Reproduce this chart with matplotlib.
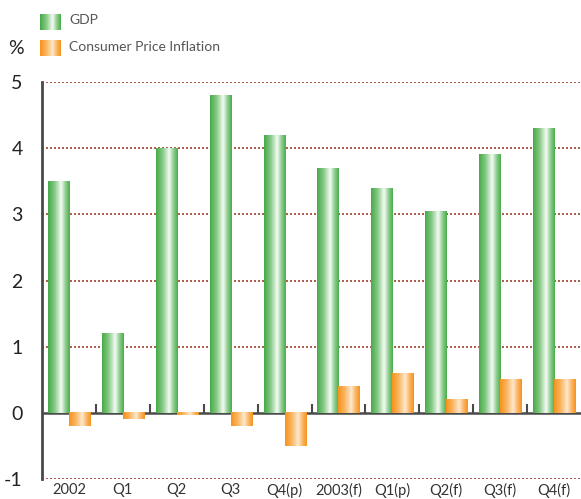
import numpy as np
import matplotlib
matplotlib.use('Agg')
import matplotlib.pyplot as plt
from matplotlib.colors import LinearSegmentedColormap

categories = ['2002', 'Q1', 'Q2', 'Q3', 'Q4(p)', '2003(f)', 'Q1(p)', 'Q2(f)', 'Q3(f)', 'Q4(f)']
gdp = [3.5, 1.2, 4.0, 4.8, 4.2, 3.7, 3.4, 3.05, 3.9, 4.3]
cpi = [-0.2, -0.1, -0.04, -0.2, -0.5, 0.4, 0.6, 0.2, 0.5, 0.5]
yticks = [-1, 0, 1, 2, 3, 4, 5]

plt.rcParams['font.family'] = ['Lato', 'DejaVu Sans']

green_cm = LinearSegmentedColormap.from_list('g', [(0, '#47aa47'), (0.3, '#86c986'), (0.6, '#f5fbf5'),
                                                  (0.8, '#92cf92'), (1, '#4aad4a')])
orange_cm = LinearSegmentedColormap.from_list('o', [(0, '#f7921c'), (0.3, '#f9b560'), (0.6, '#fde8cc'),
                                                   (0.8, '#fab868'), (1, '#f7921c')])
grad = np.linspace(0, 1, 64).reshape(1, -1)

fig = plt.figure(figsize=(5.81, 4.99), dpi=100)
ax = fig.add_axes([42 / 581, 20 / 499, 539 / 581, 397 / 499])

x = np.arange(len(categories))
w = 0.39
b1 = ax.bar(x + 0.11, gdp, width=w, align='edge', color='none', zorder=2)
b2 = ax.bar(x + 0.11 + w, cpi, width=w, align='edge', color='none', zorder=2)


def fill_gradient(bars, cmap):
    for r in bars:
        x0, y0 = r.get_x(), r.get_y()
        h = r.get_height()
        ax.imshow(grad, extent=[x0, x0 + r.get_width(), y0, y0 + h], aspect='auto',
                  cmap=cmap, zorder=5, interpolation='bilinear')


fill_gradient(b1, green_cm)
fill_gradient(b2, orange_cm)

# dotted grid lines
for yv in yticks:
    if yv != 0:
        ax.axhline(yv, color='#a0402a', lw=1.2, ls=(0, (1.2, 1.2)), zorder=1)
ax.axhline(0, color='#4a4a4a', lw=1.8, zorder=4)
ax.vlines(np.arange(1, len(categories)), 0, 0.13, color='#4a4a4a', lw=1.5, zorder=4)

ax.set_xlim(0, len(categories))
ax.set_ylim(-1, 5)
ax.set_aspect('auto')

for s in ['top', 'right', 'bottom']:
    ax.spines[s].set_visible(False)
ax.spines['left'].set_color('#4a4a4a')
ax.spines['left'].set_linewidth(2)

ax.set_yticks(yticks)
ax.set_yticklabels([str(v) for v in yticks], fontsize=14, color='#222222')
ax.tick_params(axis='y', length=0, pad=14)
ax.set_xticks(x + 0.5)
ax.set_xticklabels(categories, fontsize=10.5, color='#333333')
ax.tick_params(axis='x', length=0, pad=3)

fig.text(8 / 581, 1 - 48 / 499, '%', fontsize=14, color='#222222', va='center')

# legend
lg = fig.add_axes([40 / 581, 1 - 56 / 499, 21 / 581, 42 / 499])
lg.imshow(grad, extent=[0, 1, 26, 42], aspect='auto', cmap=green_cm)
lg.imshow(grad, extent=[0, 1, 0, 16], aspect='auto', cmap=orange_cm)
lg.set_xlim(0, 1)
lg.set_ylim(0, 42)
lg.axis('off')
fig.text(69 / 581, 1 - 20 / 499, 'GDP', fontsize=10, color='#555555', va='center')
fig.text(69 / 581, 1 - 47 / 499, 'Consumer Price Inflation', fontsize=10, color='#555555', va='center')

fig.savefig('out.png', dpi=100)
